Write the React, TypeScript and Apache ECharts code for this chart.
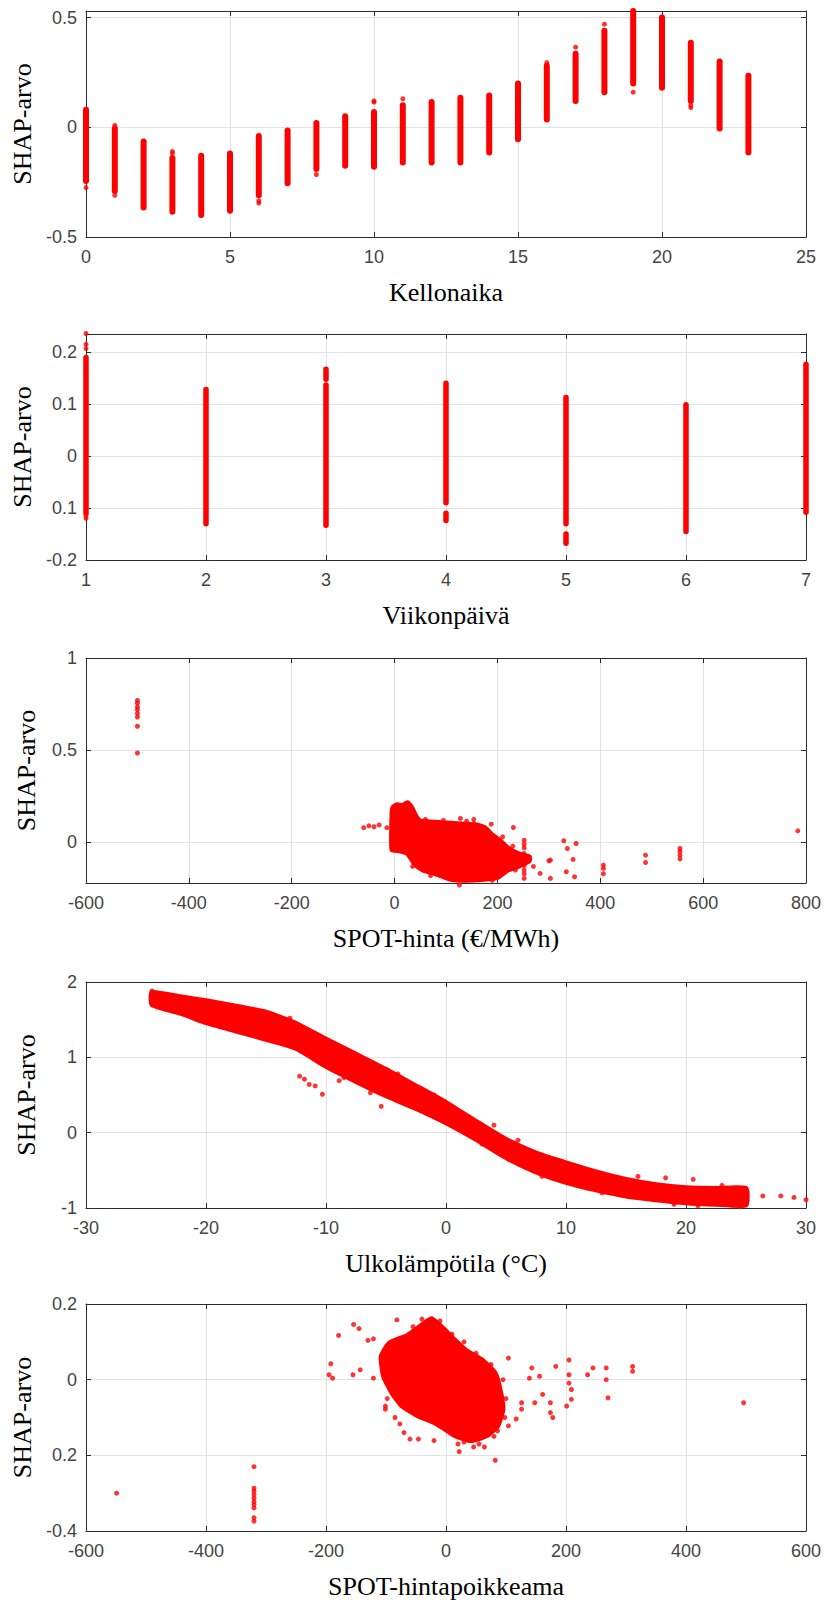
import React, { useEffect, useRef } from "react";
import * as echarts from "echarts";

const RED = "#ff0000";

// ---------- Panel 1: Kellonaika ----------
const hourX = [0, 1, 2, 3, 4, 5, 6, 7, 8, 9, 10, 11, 12, 13, 14, 15, 16, 17, 18, 19, 20, 21, 22, 23];
const hourLow = [-0.245, -0.29, -0.365, -0.385, -0.4, -0.38, -0.31, -0.255, -0.19, -0.175, -0.18, -0.16, -0.16, -0.16, -0.115, -0.055, 0.035, 0.12, 0.16, 0.2, 0.18, 0.12, -0.005, -0.115];
const hourHigh = [0.08, -0.005, -0.065, -0.14, -0.13, -0.12, -0.04, -0.015, 0.02, 0.05, 0.07, 0.1, 0.115, 0.135, 0.145, 0.2, 0.28, 0.335, 0.44, 0.53, 0.5, 0.385, 0.3, 0.235];
const hourDots = [[0, -0.275], [1, 0.008], [1, -0.31], [3, -0.11], [3, -0.12], [6, -0.335], [6, -0.345], [8, -0.215], [10, 0.12], [10, 0.115], [11, 0.13], [16, 0.295], [17, 0.365], [18, 0.47], [19, 0.16], [21, 0.09], [21, 0.1]];
const p1XTicks = [0, 5, 10, 15, 20, 25];
const p1XLabels = ["0", "5", "10", "15", "20", "25"];
const p1YTicks = [-0.5, 0, 0.5];
const p1YLabels = ["-0.5", "0", "0.5"];

// ---------- Panel 2: Viikonpäivä ----------
const dayStripX = [1, 2, 3, 3, 4, 4, 5, 5, 6, 7];
const dayStripLow = [-0.11, -0.13, -0.133, 0.148, -0.09, -0.124, -0.13, -0.168, -0.145, -0.108];
const dayStripHigh = [0.19, 0.128, 0.137, 0.167, 0.14, -0.11, 0.113, -0.15, 0.099, 0.177];
const dayDots = [[1, 0.236], [1, 0.215], [1, 0.207], [1, -0.12], [1, -0.115]];
const p2XTicks = [1, 2, 3, 4, 5, 6, 7];
const p2XLabels = ["1", "2", "3", "4", "5", "6", "7"];
const p2YTicks = [-0.2, -0.1, 0, 0.1, 0.2];
const p2YLabels = ["-0.2", "0.1", "0", "0.1", "0.2"];

// ---------- Panel 3: SPOT-hinta ----------
const spotCloudX = [-5, -3, 5, 15, 25, 33, 42, 50, 75, 100, 130, 160, 175, 190, 205, 220, 240, 262, 262, 240, 220, 200, 175, 140, 110, 80, 55, 40, 25, 10, -5];
const spotCloudY = [0.15, 0.19, 0.205, 0.2, 0.215, 0.19, 0.14, 0.115, 0.11, 0.105, 0.1, 0.095, 0.08, 0.04, 0.01, -0.03, -0.06, -0.08, -0.1, -0.13, -0.15, -0.19, -0.2, -0.205, -0.2, -0.17, -0.15, -0.12, -0.06, -0.045, -0.04];
const spotDots = [[-500, 0.77], [-500, 0.755], [-500, 0.735], [-500, 0.72], [-500, 0.7], [-500, 0.68], [-500, 0.63], [-500, 0.485], [-60, 0.08], [-50, 0.09], [-40, 0.085], [-30, 0.095], [-15, 0.08], [128, 0.13], [154, 0.125], [154, 0.103], [169, 0.076], [188, 0.099], [231, 0.081], [252, 0.012], [252, -0.01], [252, -0.03], [252, -0.06], [252, -0.08], [252, -0.1], [252, -0.125], [252, -0.15], [252, -0.17], [252, -0.195], [262, -0.078], [283, -0.168], [303, -0.096], [303, -0.195], [329, 0.009], [336, -0.033], [347, -0.092], [353, -0.006], [334, -0.159], [350, -0.186], [406, -0.123], [406, -0.141], [406, -0.17], [488, -0.069], [488, -0.109], [555, -0.033], [555, -0.05], [555, -0.069], [555, -0.089], [784, 0.063], [126, -0.231], [300, -0.1], [270, -0.13], [60, 0.125], [95, 0.12], [140, 0.115], [210, 0.03], [230, -0.02], [235, -0.15], [190, -0.205], [70, -0.18], [35, -0.13]];
const p3XTicks = [-600, -400, -200, 0, 200, 400, 600, 800];
const p3XLabels = ["-600", "-400", "-200", "0", "200", "400", "600", "800"];
const p3YTicks = [0, 0.5, 1];
const p3YLabels = ["0", "0.5", "1"];

// ---------- Panel 4: Ulkolämpötila ----------
const tempX = [-24.5, -22, -20, -17.5, -15, -12.5, -10, -7.5, -5, -2.5, 0, 2.5, 5, 7.5, 10, 12.5, 15, 17.5, 20, 22.5, 25];
const tempUpper = [1.86, 1.8, 1.75, 1.68, 1.6, 1.45, 1.24, 1.04, 0.84, 0.62, 0.4, 0.15, -0.09, -0.27, -0.4, -0.52, -0.62, -0.69, -0.73, -0.74, -0.74];
const tempLower = [1.7, 1.58, 1.46, 1.35, 1.24, 1.12, 0.88, 0.68, 0.49, 0.32, 0.13, -0.09, -0.33, -0.52, -0.66, -0.76, -0.84, -0.89, -0.93, -0.95, -0.96];
const tempDots = [[-24.5, 1.88], [-24.2, 1.75], [-23, 1.8], [-21.8, 1.72], [-20.5, 1.62], [-19.5, 1.7], [-18.3, 1.68], [-12.2, 0.75], [-11.8, 0.71], [-11.4, 0.64], [-10.9, 0.62], [-10.3, 0.51], [-8.9, 0.69], [-8.5, 0.73], [-6.3, 0.53], [-5.4, 0.35], [18.3, -0.6], [20.6, -0.62], [21, -0.97], [24.5, -0.98], [26.4, -0.84], [27.9, -0.84], [29, -0.86], [30, -0.89], [-23.5, 1.83], [-22.5, 1.65], [-21, 1.6], [-19, 1.52], [-17, 1.45], [-16, 1.62], [-14, 1.3], [-13, 1.52], [-11, 1.1], [-9, 1.12], [-7, 0.95], [-6, 0.88], [-4, 0.78], [-3, 0.42], [-1, 0.5], [1, 0.05], [3, -0.15], [4, 0.1], [6, -0.1], [8, -0.58], [11, -0.45], [13, -0.8], [16, -0.58], [19, -0.95], [23, -0.7], [24, -0.9]];
const p4XTicks = [-30, -20, -10, 0, 10, 20, 30];
const p4XLabels = ["-30", "-20", "-10", "0", "10", "20", "30"];
const p4YTicks = [-1, 0, 1, 2];
const p4YLabels = ["-1", "0", "1", "2"];

// ---------- Panel 5: SPOT-hintapoikkeama ----------
const devCloudX = [-108, -95, -64, -37, -24, -7, 15, 33, 60, 82, 90, 95, 86, 68, 42, 15, -2, -20, -46, -73, -90, -104];
const devCloudY = [0.061, 0.096, 0.117, 0.148, 0.161, 0.139, 0.104, 0.078, 0.052, 0.017, -0.026, -0.078, -0.122, -0.148, -0.161, -0.148, -0.13, -0.113, -0.096, -0.07, -0.035, 0.009];
const devDots = [[-192, 0.042], [-195, 0.013], [-189, 0.004], [-179, 0.117], [-154, 0.146], [-145, 0.135], [-155, 0.013], [-143, 0.026], [-130, 0.104], [-121, 0.108], [-82, 0.158], [-121, 0.004], [-101, -0.07], [-101, -0.078], [-77, -0.117], [-60, -0.157], [-46, -0.157], [-20, -0.161], [20, -0.17], [22, -0.19], [46, -0.178], [64, -0.178], [82, -0.213], [86, -0.135], [104, -0.122], [117, -0.104], [104, 0.057], [143, 0.031], [139, 0.004], [156, 0.009], [161, -0.039], [148, -0.061], [174, -0.061], [174, -0.087], [178, -0.1], [183, 0.035], [205, 0.052], [205, 0.013], [205, -0.009], [209, -0.026], [209, -0.052], [201, -0.07], [236, 0.013], [245, 0.031], [267, 0.031], [267, 0], [270, -0.048], [311, 0.035], [311, 0.022], [496, -0.061], [-549, -0.3], [-320, -0.23], [-320, -0.287], [-320, -0.295], [-320, -0.304], [-320, -0.313], [-320, -0.322], [-320, -0.33], [-320, -0.339], [-320, -0.365], [-320, -0.374], [126, -0.061], [126, -0.078], [-100, 0.075], [-105, 0.03], [-98, -0.05], [-85, -0.1], [-70, -0.14], [-55, 0.14], [-40, 0.16], [-10, 0.155], [10, 0.12], [30, 0.1], [50, 0.07], [75, 0.04], [95, 0.0], [100, -0.05], [98, -0.1], [80, -0.15], [55, -0.17], [30, -0.165]];
const p5XTicks = [-600, -400, -200, 0, 200, 400, 600];
const p5XLabels = ["-600", "-400", "-200", "0", "200", "400", "600"];
const p5YTicks = [-0.4, -0.2, 0, 0.2];
const p5YLabels = ["-0.4", "0.2", "0", "0.2"];

const Y_NAME = "SHAP-arvo";

function fmt(ticks: number[], labels: string[]) {
  return (v: number) => {
    const i = ticks.findIndex((t) => Math.abs(t - v) < 1e-6);
    return i >= 0 ? labels[i] : "";
  };
}

export default function App() {
  const ref = useRef<HTMLDivElement>(null);

  useEffect(() => {
    if (!ref.current) return;
    const chart = echarts.init(ref.current, undefined, { renderer: "svg" });

    const panels = [
      { top: 11, height: 226, xName: "Kellonaika", xMin: 0, xMax: 25, xInt: 5, xT: p1XTicks, xL: p1XLabels, yMin: -0.5, yMax: 0.53, yInt: 0.5, yT: p1YTicks, yL: p1YLabels },
      { top: 334, height: 226, xName: "Viikonpäivä", xMin: 1, xMax: 7, xInt: 1, xT: p2XTicks, xL: p2XLabels, yMin: -0.2, yMax: 0.235, yInt: 0.1, yT: p2YTicks, yL: p2YLabels },
      { top: 658, height: 225, xName: "SPOT-hinta (€/MWh)", xMin: -600, xMax: 800, xInt: 200, xT: p3XTicks, xL: p3XLabels, yMin: -0.22, yMax: 1, yInt: undefined, ySplit: 2, yT: p3YTicks, yL: p3YLabels },
      { top: 982, height: 226, xName: "Ulkolämpötila (°C)", xMin: -30, xMax: 30, xInt: 10, xT: p4XTicks, xL: p4XLabels, yMin: -1, yMax: 2, yInt: 1, yT: p4YTicks, yL: p4YLabels },
      { top: 1304, height: 227, xName: "SPOT-hintapoikkeama", xMin: -600, xMax: 600, xInt: 200, xT: p5XTicks, xL: p5XLabels, yMin: -0.4, yMax: 0.2, yInt: 0.2, yT: p5YTicks, yL: p5YLabels },
    ];

    const axisLine = { show: true, onZero: false, lineStyle: { color: "#2b2b2b", width: 1 } };
    const tick = { show: true, inside: true, length: 5, lineStyle: { color: "#2b2b2b", width: 1 } };
    const labelStyle = { fontFamily: "Liberation Sans", fontSize: 18, color: "#444" };
    const split = { show: true, lineStyle: { color: "#e2e2e2", width: 1 } };

    const grid: any[] = [];
    const xAxis: any[] = [];
    const yAxis: any[] = [];
    panels.forEach((p: any, i) => {
      grid.push({ left: 86, width: 720, top: p.top, height: p.height, containLabel: false });
      const xCommon: any = { type: "value", gridIndex: i, min: p.xMin, max: p.xMax, interval: p.xInt };
      xAxis.push({
        ...xCommon,
        position: "bottom",
        axisLine,
        axisTick: tick,
        axisLabel: { ...labelStyle, margin: 11, formatter: fmt(p.xT, p.xL) },
        splitLine: split,
        name: p.xName,
        nameLocation: "middle",
        nameGap: 42,
        nameTextStyle: { fontFamily: "Liberation Serif", fontSize: 26, color: "#000" },
      });
      xAxis.push({ ...xCommon, position: "top", axisLine, axisTick: tick, axisLabel: { show: false }, splitLine: { show: false } });
      const yCommon: any = { type: "value", gridIndex: i, min: p.yMin, max: p.yMax };
      if (p.yInt !== undefined) yCommon.interval = p.yInt;
      else yCommon.splitNumber = p.ySplit;
      yAxis.push({
        ...yCommon,
        position: "left",
        axisLine,
        axisTick: tick,
        axisLabel: { ...labelStyle, margin: 9, formatter: fmt(p.yT, p.yL) },
        splitLine: split,
        name: Y_NAME,
        nameLocation: "middle",
        nameGap: 47,
        nameRotate: 90,
        nameTextStyle: { fontFamily: "Liberation Serif", fontSize: 26, color: "#000" },
      });
      yAxis.push({ ...yCommon, position: "right", axisLine, axisTick: tick, axisLabel: { show: false }, splitLine: { show: false } });
    });

    const stripSeries = (idx: number, xs: number[], lo: number[], hi: number[], width: number) => ({
      type: "custom",
      xAxisIndex: 2 * idx,
      yAxisIndex: 2 * idx,
      clip: false,
      silent: true,
      data: xs.map((x, k) => [x, lo[k], hi[k]]),
      encode: { x: 0, y: [1, 2] },
      renderItem: (_params: any, api: any) => {
        const a = api.coord([api.value(0), api.value(1)]);
        const b = api.coord([api.value(0), api.value(2)]);
        return {
          type: "line",
          shape: { x1: a[0], y1: a[1], x2: b[0], y2: b[1] },
          style: { stroke: RED, lineWidth: width, lineCap: "round" },
        };
      },
    });

    const polySeries = (idx: number, xs: number[], ys: number[]) => ({
      type: "custom",
      xAxisIndex: 2 * idx,
      yAxisIndex: 2 * idx,
      clip: false,
      silent: true,
      data: xs.map((x, k) => [x, ys[k]]),
      renderItem: (params: any, api: any) => {
        if (params.dataIndex !== 0) return { type: "group", children: [] };
        const pts = xs.map((x, k) => api.coord([x, ys[k]]));
        return {
          type: "polygon",
          shape: { points: pts, smooth: 0.15 },
          style: { fill: RED, stroke: RED, lineWidth: 5, lineJoin: "round" },
        };
      },
    });

    const dotSeries = (idx: number, pts: number[][]) => ({
      type: "scatter",
      xAxisIndex: 2 * idx,
      yAxisIndex: 2 * idx,
      clip: false,
      silent: true,
      symbol: "circle",
      symbolSize: 5,
      itemStyle: { color: RED },
      data: pts,
    });

    const bandX = [...tempX, ...tempX.slice().reverse()];
    const bandY = [...tempUpper, ...tempLower.slice().reverse()];

    const series: any[] = [
      stripSeries(0, hourX, hourLow, hourHigh, 6),
      dotSeries(0, hourDots),
      stripSeries(1, dayStripX, dayStripLow, dayStripHigh, 5.5),
      dotSeries(1, dayDots),
      polySeries(2, spotCloudX, spotCloudY),
      dotSeries(2, spotDots),
      polySeries(3, bandX, bandY),
      dotSeries(3, tempDots),
      polySeries(4, devCloudX, devCloudY),
      dotSeries(4, devDots),
    ];

    chart.setOption({
      animation: false,
      backgroundColor: "#ffffff",
      grid,
      xAxis,
      yAxis,
      series,
    });

    return () => chart.dispose();
  }, []);

  return (
    <div
      ref={ref}
      style={{ position: "absolute", left: 0, top: 0, width: 826, height: 1600, background: "#fff" }}
    />
  );
}
